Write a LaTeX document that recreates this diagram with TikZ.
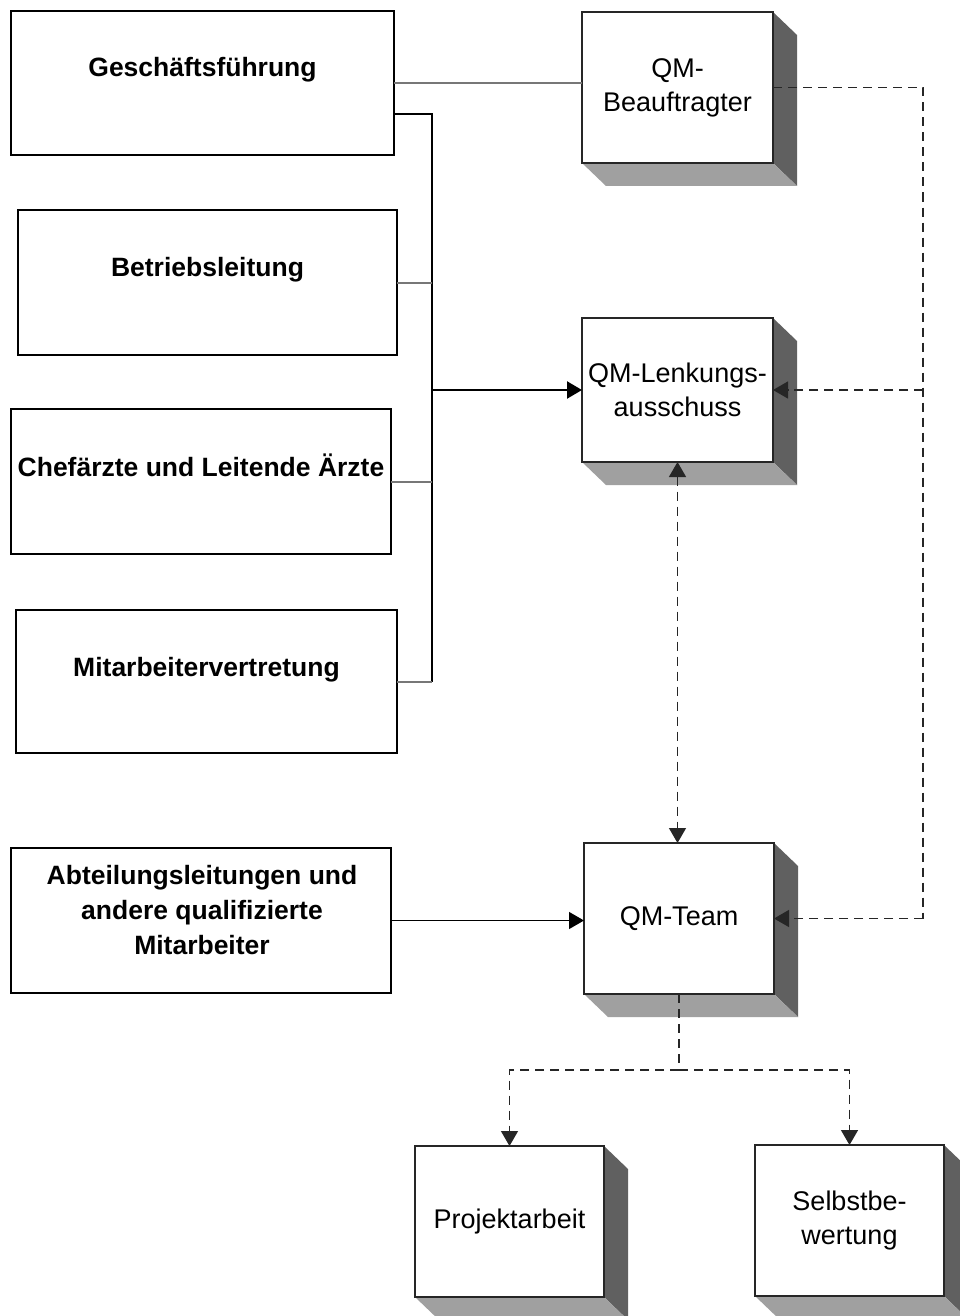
\documentclass[tikz,border=0pt]{standalone}
\usepackage{fontspec}
\setmainfont{Liberation Sans}
\usetikzlibrary{arrows.meta,calc}
\definecolor{sidedark}{HTML}{606060}
\definecolor{sidelight}{HTML}{A0A0A0}
\definecolor{linkgray}{HTML}{777777}
\pgfdeclarelayer{bg}
\pgfsetlayers{bg,main}
\newcommand\boxshade[1]{%
  \fill[sidedark] (#1.north east) -- ++(24,23) -- ($(#1.south east)+(24,23)$) -- (#1.south east) -- cycle;
  \fill[sidelight] (#1.south west) -- ++(24,23) -- ($(#1.south east)+(24,23)$) -- (#1.south east) -- cycle;}
\begin{document}
\begin{tikzpicture}[x=1pt,y=-1pt,
  every node/.style={font=\fontsize{27}{34}\selectfont},
  plainbox/.style={draw=black, line width=1.2pt, fill=white, outer sep=0pt, inner sep=0pt},
  cubebox/.style={draw=black!85, line width=1.2pt, fill=white, outer sep=0pt, inner sep=0pt, align=center,
    minimum width=191pt, minimum height=151pt},
  boldtext/.style={font=\fontsize{26.5}{35}\selectfont\bfseries, anchor=base, inner sep=0pt, align=center},
  solidlink/.style={line width=1.3pt, draw=black},
  graylink/.style={line width=2pt, draw=linkgray},
  dashlink/.style={line width=1.3pt, draw=black!85, dash pattern=on 9pt off 6pt},
  tip/.style={-{Triangle[length=15pt,width=17pt]}},
  tips/.style={{Triangle[length=15pt,width=17pt]}-{Triangle[length=15pt,width=17pt]}}
]
\useasboundingbox (0,0) rectangle (959,1316);

% left boxes
\node[plainbox, minimum width=383pt, minimum height=144pt] (gf) at (202.5,83) {};
\node[plainbox, minimum width=379pt, minimum height=145pt] (bl) at (207.5,282.5) {};
\node[plainbox, minimum width=380pt, minimum height=145pt] (ca) at (201,481.5) {};
\node[plainbox, minimum width=381pt, minimum height=143pt] (mv) at (206.5,681.5) {};
\node[plainbox, minimum width=380pt, minimum height=145pt] (al) at (201,920.5) {};

\node[boldtext] (gft) at ($(gf.north)+(0,66)$) {Geschäftsführung};
\node[boldtext] (blt) at ($(bl.north)+(0,66)$) {Betriebsleitung};
\node[boldtext] (cat) at ($(ca.north)+(0,67)$) {Chefärzte und Leitende Ärzte};
\node[boldtext] (mvt) at ($(mv.north)+(0,66)$) {Mitarbeitervertretung};
\node[boldtext, anchor=center] (alt) at (202,910) {Abteilungsleitungen und\\andere qualifizierte\\Mitarbeiter};

% 3D boxes
\node[cubebox] (qmb) at (677.5,87.5) {QM-\\Beauftragter};
\node[cubebox, minimum height=144pt] (qml) at (677.5,390) {QM-Lenkungs-\\ausschuss};
\node[cubebox, minimum width=190pt] (qmt) at (679,918.5) {QM-Team};
\node[cubebox, minimum width=189pt] (pa) at (509.5,1221.5) {Projektarbeit};
\node[cubebox, minimum width=189pt] (sb) at (849.5,1220.5) {Selbstbe-\\wertung};

\begin{pgfonlayer}{bg}
  \fill[white] (0,0) rectangle (959,1316);
  \boxshade{qmb}
  \boxshade{qml}
  \boxshade{qmt}
  \boxshade{pa}
  \boxshade{sb}
\end{pgfonlayer}

% junction coordinates
\coordinate (j1) at (432,114);
\coordinate (j4) at (432,681.5);
\coordinate (d1) at (923,87.5);
\coordinate (t1) at (679,1070);

% solid connectors
\draw[graylink] (gf.east) -- (gf.east -| qmb.west);
\draw[solidlink] (gf.east |- j1) -- (j1) -- (j4);
\draw[graylink] (bl.east) -- (bl.east -| j1);
\draw[graylink] (ca.east) -- (ca.east -| j1);
\draw[graylink] (mv.east) -- (j4);
\draw[line width=2.2pt, tip] (j1 |- qml.west) -- (qml.west);
\draw[solidlink, tip] (al.east) -- (al.east -| qmt.west);

% dashed connectors
\draw[dashlink] (qmb.east) -- (d1) -- (d1 |- qmt.east);
\draw[dashlink, tip] (d1 |- qml.east) -- (qml.east);
\draw[dashlink, tip] (d1 |- qmt.east) -- (qmt.east);
\draw[dashlink, tips] (qml.south) -- (qml.south |- qmt.north);
\draw[dashlink] (qmt.south) -- (t1);
\draw[dashlink, tip] (t1) -| (pa.north);
\draw[dashlink, tip] (t1) -| (sb.north);
\end{tikzpicture}
\end{document}
